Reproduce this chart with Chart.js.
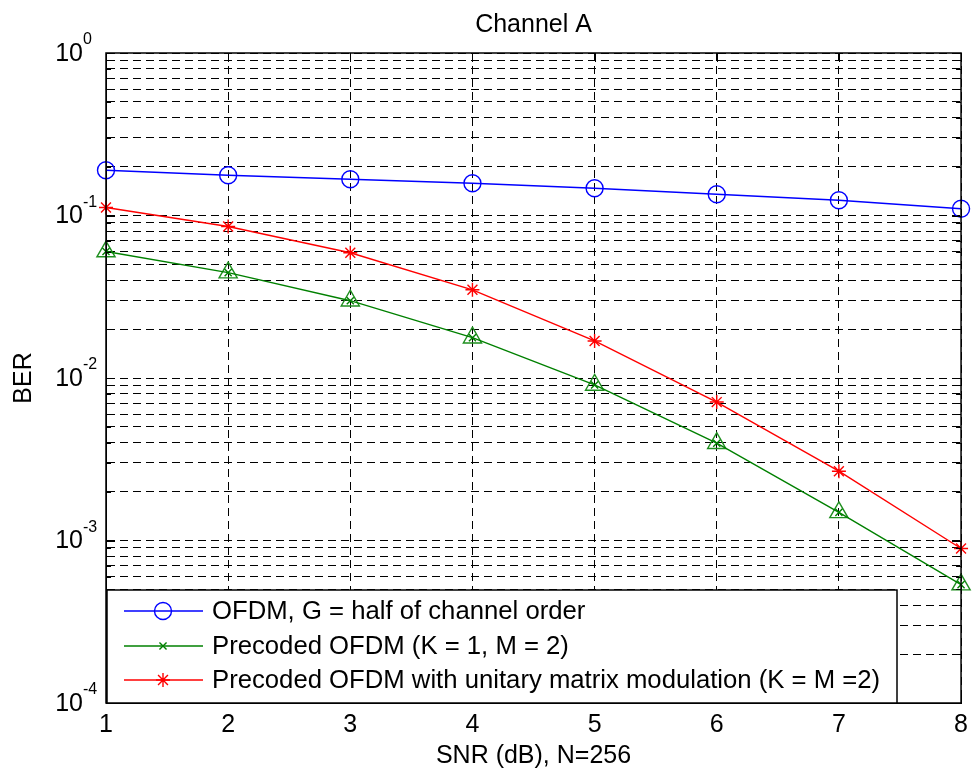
<!DOCTYPE html>
<html>
<head>
<meta charset="utf-8">
<script src="https://cdn.jsdelivr.net/npm/chart.js@4.4.1/dist/chart.umd.min.js"></script>
<style>
  html, body { margin: 0; padding: 0; background: #fff; }
  canvas { display: block; }
</style>
</head>
<body>
<canvas id="ber" width="975" height="769"></canvas>
<script>
// values
const snr = [1, 2, 3, 4, 5, 6, 7, 8];
const berOfdm = [0.19, 0.177, 0.167, 0.158, 0.147, 0.135, 0.124, 0.110];
const berPrecoded = [0.060, 0.0445, 0.0299, 0.0177, 0.00906, 0.00397, 0.00149, 0.000535];
const berUnitary = [0.112, 0.0855, 0.059, 0.0349, 0.0169, 0.00711, 0.00267, 0.000893];
const seriesNames = [
    "OFDM, G = half of channel order",
    "Precoded OFDM (K = 1, M = 2)",
    "Precoded OFDM with unitary matrix modulation (K = M =2)",
];
const yExponents = [-4, -3, -2, -1, 0];

const FONT = '"Liberation Sans", Arial, sans-serif';
const BLUE = "#0000ff", GREEN = "#008000", RED = "#ff0000";

// every 1..9 x 10^k line of the log grid
const yGrid = [];
yExponents.slice(0, -1).forEach(e => {
    for (let m = 1; m <= 9; m++) yGrid.push(m * Math.pow(10, e));
});
yGrid.push(1);

function marker(ctx, style, x, y, r, color) {
    ctx.save();
    ctx.strokeStyle = color;
    ctx.lineWidth = 1.4;
    ctx.beginPath();
    if (style === "circle") {
        ctx.arc(x, y, r, 0, Math.PI * 2);
    } else {
        const k = r * Math.SQRT1_2;
        ctx.moveTo(x - k, y - k); ctx.lineTo(x + k, y + k);
        ctx.moveTo(x - k, y + k); ctx.lineTo(x + k, y - k);
        if (style === "star") {
            ctx.moveTo(x - r, y); ctx.lineTo(x + r, y);
            ctx.moveTo(x, y - r); ctx.lineTo(x, y + r);
        }
    }
    ctx.stroke();
    ctx.restore();
}

const decor = {
    id: "decor",
    afterDatasetsDraw(chart) {
        const ctx = chart.ctx;
        const a = chart.chartArea;
        const xs = chart.scales.x, ys = chart.scales.y;
        ctx.save();
        // inward ticks on all four sides
        ctx.strokeStyle = "#000";
        ctx.lineWidth = 1;
        ctx.beginPath();
        yGrid.forEach(v => {
            const y = Math.round(ys.getPixelForValue(v)) + 0.5;
            const major = Number.isInteger(Math.log10(v)) ? 9 : 5;
            ctx.moveTo(a.left, y); ctx.lineTo(a.left + major, y);
            ctx.moveTo(a.right, y); ctx.lineTo(a.right - major, y);
        });
        snr.forEach((s, i) => {
            const x = Math.round(xs.getPixelForValue(i)) + 0.5;
            ctx.moveTo(x, a.top); ctx.lineTo(x, a.top + 9);
            ctx.moveTo(x, a.bottom); ctx.lineTo(x, a.bottom - 9);
        });
        ctx.stroke();
        // frame
        ctx.lineWidth = 1.5;
        ctx.strokeRect(a.left, a.top, a.right - a.left, a.bottom - a.top);

        // legend box
        const bx = 107, by = 590, bw = 790, bh = 113;
        ctx.fillStyle = "#fff";
        ctx.fillRect(bx, by, bw, bh);
        ctx.lineWidth = 1.5;
        ctx.strokeRect(bx, by, bw, bh);
        const rows = [
            { y: 611, color: BLUE, style: "circle", r: 8.5 },
            { y: 646, color: GREEN, style: "crossRot", r: 5 },
            { y: 680, color: RED, style: "star", r: 7 },
        ];
        ctx.font = "25.7px " + FONT;
        ctx.textAlign = "left";
        ctx.textBaseline = "middle";
        rows.forEach((row, i) => {
            ctx.strokeStyle = row.color;
            ctx.lineWidth = 1.4;
            ctx.beginPath();
            ctx.moveTo(124, row.y); ctx.lineTo(203, row.y);
            ctx.stroke();
            marker(ctx, row.style, 163, row.y, row.r, row.color);
            ctx.fillStyle = "#000";
            ctx.fillText(seriesNames[i], 212, row.y + 1);
        });
        ctx.restore();
    },
    afterDraw(chart) {
        const ctx = chart.ctx;
        const a = chart.chartArea;
        const ys = chart.scales.y;
        ctx.save();
        ctx.fillStyle = "#000";
        ctx.textBaseline = "middle";
        ctx.textAlign = "center";
        ctx.font = "25px " + FONT;
        ctx.fillText("Channel A", (a.left + a.right) / 2, 25);
        // y tick labels as 10 with raised exponent
        yExponents.forEach(e => {
            const y = ys.getPixelForValue(Math.pow(10, e));
            ctx.font = "25px " + FONT;
            ctx.textAlign = "right";
            ctx.fillText("10", 83, y + 1);
            ctx.font = "16px " + FONT;
            ctx.textAlign = "left";
            ctx.fillText(String(e), 83, y - 13);
        });
        ctx.restore();
    },
};

new Chart(document.getElementById("ber"), {
    type: "line",
    data: {
        labels: snr,
        datasets: [
            {
                label: seriesNames[0],
                data: berOfdm,
                borderColor: BLUE,
                borderWidth: 1.4,
                pointStyle: "circle",
                pointRadius: 8.5,
                pointBorderWidth: 1.4,
                pointBorderColor: BLUE,
                pointBackgroundColor: "transparent",
                clip: false,
            },
            {
                label: seriesNames[1],
                data: berPrecoded,
                borderColor: GREEN,
                borderWidth: 1.4,
                pointStyle: "crossRot",
                pointRadius: 5,
                pointBorderWidth: 1.4,
                pointBorderColor: GREEN,
                pointBackgroundColor: "transparent",
                clip: false,
            },
            {
                label: "triangles",
                data: berPrecoded,
                showLine: false,
                pointStyle: "triangle",
                pointRadius: 10.5,
                pointBorderWidth: 1.4,
                pointBorderColor: "#1f8f1f",
                pointBackgroundColor: "transparent",
                clip: false,
            },
            {
                label: seriesNames[2],
                data: berUnitary,
                borderColor: RED,
                borderWidth: 1.4,
                pointStyle: "star",
                pointRadius: 7,
                pointBorderWidth: 1.4,
                pointBorderColor: RED,
                pointBackgroundColor: "transparent",
                clip: false,
            },
        ],
    },
    options: {
        responsive: false,
        animation: false,
        layout: { padding: { top: 53, right: 12, left: 0, bottom: 0 } },
        plugins: {
            legend: { display: false },
            tooltip: { enabled: false },
        },
        scales: {
            x: {
                type: "category",
                offset: false,
                grid: { offset: false, color: "#000", lineWidth: 1, drawTicks: false },
                border: { color: "#000", width: 1, dash: [8, 5] },
                ticks: {
                    color: "#000",
                    font: { family: FONT, size: 25 },
                    padding: 7,
                    maxRotation: 0,
                    autoSkip: false,
                },
                title: {
                    display: true,
                    text: "SNR (dB), N=256",
                    color: "#000",
                    font: { family: FONT, size: 25 },
                    padding: { top: 0, bottom: -2 },
                },
                afterFit(scale) { scale.height = 66; },
            },
            y: {
                type: "logarithmic",
                min: 1e-4,
                max: 1,
                afterBuildTicks(scale) {
                    scale.ticks = yGrid.map(v => ({ value: v }));
                },
                grid: { color: "#000", lineWidth: 1, drawTicks: false },
                border: { color: "#000", width: 1, dash: [8, 5] },
                ticks: { display: false },
                title: {
                    display: true,
                    text: "BER",
                    color: "#000",
                    font: { family: FONT, size: 25 },
                    padding: { top: 9, bottom: 0 },
                },
                afterFit(scale) { scale.width = 106; },
            },
        },
    },
    plugins: [decor],
});
</script>
</body>
</html>
